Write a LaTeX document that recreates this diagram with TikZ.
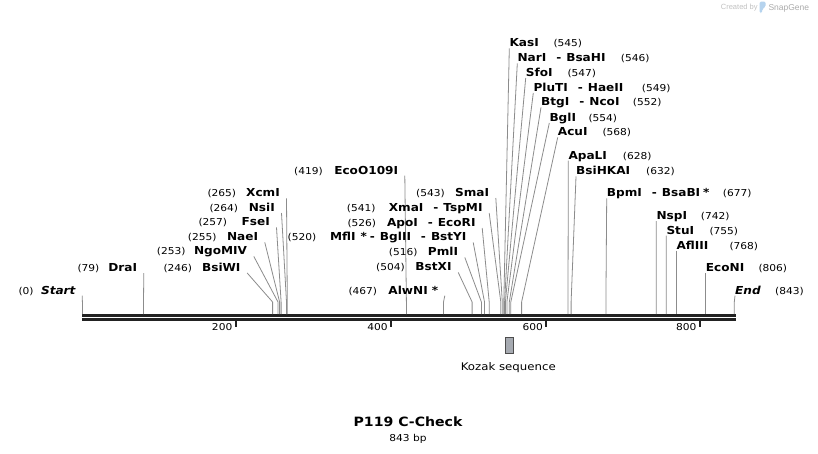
\documentclass[tikz,border=0pt]{standalone}
\usepackage{fontspec}
\setmainfont{DejaVu Sans}
\newfontfamily\numfont[FakeStretch=1.12]{DejaVu Sans}
\newfontfamily\enzfont[FakeStretch=1.1]{DejaVu Sans}
\newfontfamily\credfont{Liberation Sans}
\newcommand{\esep}{\hspace{10pt}-\hspace{5pt}}
\definecolor{leadc}{HTML}{8C8C8C}
\definecolor{axisc}{HTML}{222222}
\definecolor{kozfill}{HTML}{A6AAB1}
\definecolor{kozdraw}{HTML}{4D4D4D}
\definecolor{credc}{HTML}{C2C2C2}
\definecolor{snapc}{HTML}{ABABAB}
\definecolor{iconc}{HTML}{B5D3EE}
\tikzset{
  numlbl/.style={inner sep=0pt, anchor=base west, font=\numfont\fontsize{9.5}{11}\selectfont},
  enzR/.style={inner sep=0pt, anchor=base west, font=\enzfont\bfseries\fontsize{11}{13}\selectfont},
  enzL/.style={inner sep=0pt, anchor=base east, font=\enzfont\bfseries\fontsize{11}{13}\selectfont},
  leader/.style={draw=leadc, line width=0.8pt},
  axisline/.style={draw=axisc, line width=2.6pt},
  tickmark/.style={draw=axisc, line width=2pt},
  ticklbl/.style={inner sep=0pt, anchor=east, font=\numfont\fontsize{9.5}{11}\selectfont},
}
\begin{document}
\begin{tikzpicture}[x=1pt,y=-1pt]
\useasboundingbox (0,0) rectangle (818,453);
\fill[white] (0,0) rectangle (818,453);

% credit
\node[inner sep=0pt, anchor=base west, font=\credfont\fontsize{7.5}{9}\selectfont, text=credc] (cred) at (720.7,9.5) {Created by};
\fill[iconc, rounded corners=1.5pt] (759.5,13) -- (759.5,1.5) -- (765.5,1.5) -- (765.5,7) -- (762.2,9) -- (762.2,13) -- cycle;
\node[inner sep=0pt, anchor=base west, font=\credfont\fontsize{8.5}{10}\selectfont, text=snapc] (snap) at (768.3,10) {SnapGene};

% axis
\coordinate (ax0) at (82,315.3);
\coordinate (ax1) at (736,315.3);
\coordinate (bx0) at (82,319.4);
\coordinate (bx1) at (736,319.4);
\draw[axisline] (ax0) -- (ax1);
\draw[axisline] (bx0) -- (bx1);

% ticks
\foreach \tv/\tx in {200/235.7,400/391,600/546.3,800/699.7}{
  \coordinate (t\tv) at (\tx,320.5);
  \draw[tickmark] (t\tv) -- ++(0,6.5);
  \node[ticklbl] (lt\tv) at (\tx-3.2,326.7) {\tv};
}

% right-hand labels: Name (num)
\foreach \id/\txt/\xl/\yc/\xn/\nb/\xs in {
  kas/KasI/509.3/42.7/553.3/545/503.8,
  nar/{NarI\esep BsaHI}/517.3/57.7/620.7/546/504.6,
  sfo/SfoI/525.7/72.3/567.3/547/505.4,
  plu/{PluTI\esep HaeII}/533.3/87.3/641.7/549/506.9,
  btg/{BtgI\esep NcoI}/541/101.7/632.7/552/509.3,
  bgl/BglI/549.3/117.3/588.3/554/510.8,
  acu/AcuI/557.7/131.7/602.3/568/521.6,
  apa/ApaLI/568.3/155/622.7/628/568.0,
  bsh/BsiHKAI/576/170.7/646/632/571.1,
  bpm/{BpmI\esep BsaBI\hspace{3pt}*}/606.7/192.7/722.7/677/605.9,
  nsp/NspI/656.3/215.3/700.7/742/656.2,
  stu/StuI/666.3/230/709.3/755/666.2,
  afl/AflIII/676.3/245/729.3/768/676.3,
  eco/EcoNI/705.7/267.7/758.3/806/705.7,
  fin/{\itshape End}/735/290/775/843/734.3%
}{
  \node[enzR] (n\id) at (\xl,\yc+4) {\txt};
  \node[numlbl] (m\id) at (\xn,\yc+4) {(\nb)};
  \coordinate (k\id) at (\xs,302);
  \coordinate (c\id) at (\xs,314);
  \draw[leader] ([yshift=-1.7pt]n\id.base west) -- (k\id) -- (c\id);
}

% left-hand labels: (num) Name
\foreach \id/\txt/\xr/\yc/\xn/\nb/\xs in {
  xcm/XcmI/280/192.7/207.3/265/287.3,
  nsi/NsiI/275/207.3/209.3/264/286.5,
  fse/FseI/270/221.7/198.3/257/281.1,
  nae/NaeI/258.3/236.7/187.7/255/279.6,
  ngo/NgoMIV/247.3/250.7/156.7/253/278.0,
  bsw/BsiWI/240.7/267.3/163.3/246/272.6,
  dra/DraI/137.3/267.3/77.3/79/143.5,
  sta/{\itshape Start}/75.7/290/18.3/0/82.4,
  eoo/EcoO109I/398.3/170/294/419/406.4,
  sma/SmaI/489.3/192.3/416/543/502.3,
  xma/{XmaI\esep TspMI}/482.7/207.3/346.7/541/500.8,
  apo/{ApoI\esep EcoRI}/475.7/222.3/347.3/526/489.2,
  mfl/{MflI\hspace{5pt}*\hspace{3pt}-\hspace{5pt}BglII\esep BstYI}/466.7/236.7/287.5/520/484.5,
  pml/PmlI/458.3/251.7/388.7/516/481.4,
  bsx/BstXI/451.7/266.7/376/504/472.1,
  alw/{AlwNI\hspace{4pt}*}/438.3/290/348.3/467/443.5%
}{
  \node[enzL] (n\id) at (\xr,\yc+4) {\txt};
  \node[numlbl] (m\id) at (\xn,\yc+4) {(\nb)};
  \coordinate (k\id) at (\xs,302);
  \coordinate (c\id) at (\xs,314);
  \draw[leader] ([xshift=6.5pt,yshift=-1.7pt]n\id.base east) -- (k\id) -- (c\id);
}

% Kozak feature
\node[draw=kozdraw, fill=kozfill, line width=0.8pt, inner sep=0pt, minimum width=8.3pt, minimum height=16pt] (koz) at (509.2,345.3) {};
\node[inner sep=0pt, anchor=base, font=\numfont\fontsize{10.5}{12}\selectfont] (kozlbl) at (508.3,370.7) {Kozak sequence};

% title
\node[inner sep=0pt, font=\enzfont\bfseries\fontsize{12.8}{15}\selectfont] (title) at (408,421.7) {P119 C-Check};
\node[inner sep=0pt, anchor=base, font=\numfont\fontsize{9.5}{11}\selectfont] (len) at (408,441) {843 bp};
\end{tikzpicture}
\end{document}
